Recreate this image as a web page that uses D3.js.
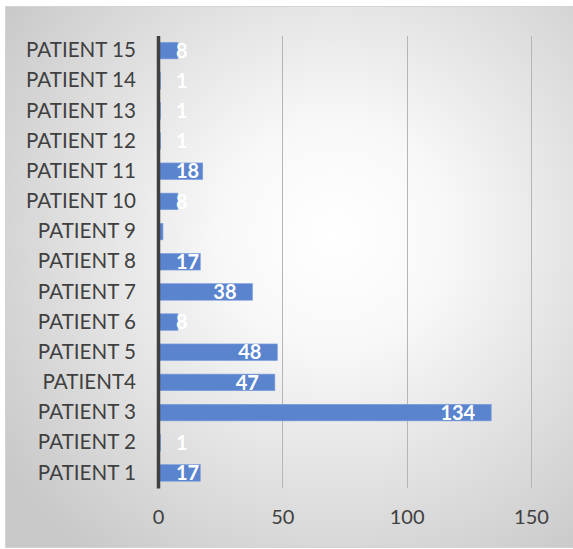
<!DOCTYPE html>
<html>
<head>
<meta charset="utf-8">
<script src="https://cdn.jsdelivr.net/npm/d3@7"></script>
<style>
  html, body { margin: 0; padding: 0; background: #ffffff; }
  svg { display: block; }
</style>
</head>
<body>
<div id="chart"></div>
<script>
// Patient categories, listed bottom to top as they appear on the axis
const patients = ["PATIENT 1", "PATIENT 2", "PATIENT 3", "PATIENT4", "PATIENT 5",
  "PATIENT 6", "PATIENT 7", "PATIENT 8", "PATIENT 9", "PATIENT 10",
  "PATIENT 11", "PATIENT 12", "PATIENT 13", "PATIENT 14", "PATIENT 15"];
const counts = [17, 1, 134, 47, 48, 8, 38, 17, 2, 8, 18, 1, 1, 1, 8];
// Data labels shown on each bar ("" = no label)
const valueLabels = ["17", "1", "134", "47", "48", "8", "38", "17", "", "8", "18", "1", "1", "1", "8"];
const xTicks = [0, 50, 100, 150];

const W = 573, H = 549;
const font = "Lato, 'Open Sans', sans-serif";

const svg = d3.select("#chart").append("svg")
  .attr("width", W).attr("height", H);

// Soft radial backdrop of the chart area
const defs = svg.append("defs");
const grad = defs.append("radialGradient")
  .attr("id", "bg")
  .attr("gradientUnits", "userSpaceOnUse")
  .attr("cx", 335).attr("cy", 235).attr("r", 400);
grad.append("stop").attr("offset", "0").attr("stop-color", "#ffffff");
grad.append("stop").attr("offset", "0.28").attr("stop-color", "#f8f8f8");
grad.append("stop").attr("offset", "1").attr("stop-color", "#c9c9c9");

svg.append("rect")
  .attr("x", 5.5).attr("y", 6.5)
  .attr("width", W - 5).attr("height", H - 8)
  .attr("fill", "url(#bg)")
  .attr("stroke", "#d4d4d4").attr("stroke-width", 1);

const plot = { left: 158, right: 531, top: 35.5, bottom: 488 };

const x = d3.scaleLinear().domain([0, 150]).range([plot.left, plot.right]);
const y = d3.scaleBand()
  .domain(patients.slice().reverse())
  .range([plot.top, plot.bottom])
  .paddingInner(0.45).paddingOuter(0.225);

// Vertical gridlines spanning the plot
const xAxis = d3.axisBottom(x)
  .tickValues(xTicks)
  .tickSize(-(plot.bottom - plot.top))
  .tickPadding(22)
  .tickFormat(d3.format("d"));

const gx = svg.append("g")
  .attr("transform", `translate(0,${plot.bottom})`)
  .call(xAxis);
gx.select(".domain").remove();
gx.selectAll(".tick line")
  .attr("stroke", "#b5b5b5").attr("stroke-width", 1)
  .attr("shape-rendering", "crispEdges");
gx.selectAll(".tick text")
  .attr("fill", "#404040")
  .style("font-family", font)
  .style("font-size", "20px");

// Bars
const data = patients.map((p, i) => ({ p, v: counts[i], label: valueLabels[i] }));

svg.append("g").selectAll("rect")
  .data(data)
  .join("rect")
  .attr("x", x(0))
  .attr("y", d => y(d.p))
  .attr("width", d => x(d.v) - x(0))
  .attr("height", y.bandwidth())
  .attr("fill", "#5b84cf")
  .attr("stroke", "#7d9fdc").attr("stroke-width", 0.6);

// Category axis
const yAxis = d3.axisLeft(y).tickSize(0).tickPadding(22);
const gy = svg.append("g")
  .attr("transform", `translate(${plot.left},0)`)
  .call(yAxis);
gy.select(".domain")
  .attr("stroke", "#404040").attr("stroke-width", 3.5);
gy.selectAll(".tick text")
  .attr("fill", "#404040")
  .style("font-family", font)
  .style("font-size", "20.6px");

// Value labels: inside the bar end, kept clear of the axis for short bars
const labels = svg.append("g").selectAll("text")
  .data(data.filter(d => d.label !== ""))
  .join("text")
  .text(d => d.label)
  .attr("y", d => y(d.p) + y.bandwidth() / 2)
  .attr("dy", "0.36em")
  .attr("fill", "#ffffff")
  .style("font-family", font)
  .style("font-size", "20px")
  .style("font-weight", "bold")
  .attr("text-anchor", "start");

labels.attr("x", function (d) {
  const w = this.getComputedTextLength();
  return Math.max(x(d.v) - 16 - w, plot.left + 18);
});
</script>
</body>
</html>
